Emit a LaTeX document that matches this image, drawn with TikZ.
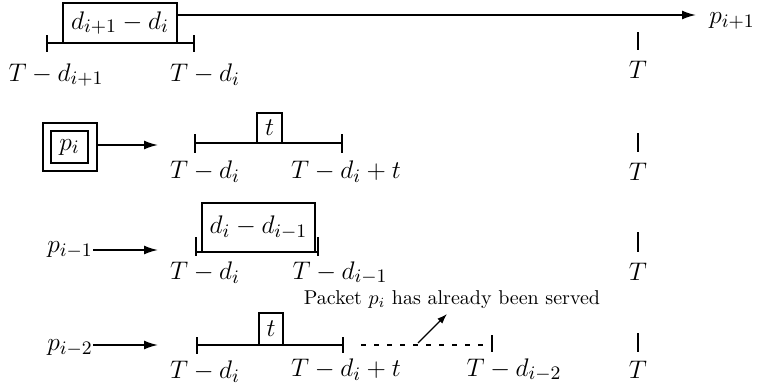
\documentclass[tikz,border=0pt]{standalone}
\usepackage{graphicx}
\usetikzlibrary{arrows.meta}
\newcommand{\bt}[1]{\scalebox{1.06}{#1}}
\begin{document}
\begin{tikzpicture}[x=0.5pt,y=-0.5pt,
  lbl/.style={inner sep=0pt,font=\fontsize{13}{15}\selectfont,scale=1.06},
  tl/.style={line width=0.85pt},
  tk/.style={line width=0.7pt},
  bx/.style={draw,line width=0.6pt,inner sep=0pt,font=\fontsize{13}{15}\selectfont},
  arr/.style={line width=0.9pt,-{Latex[length=7pt,width=4.5pt]}},
  sarr/.style={line width=0.6pt,-{Latex[length=5pt,width=3.5pt]}}]
\useasboundingbox (0,0) rectangle (757,391);
% ---------- row 1 ----------
\node[bx,minimum width=57pt,minimum height=20pt] (b1) at (120,23) {\bt{$d_{i+1}-d_i$}};
\coordinate (a1) at (47,43);
\coordinate (b1r) at (194,43);
\draw[tl] (a1) -- (b1r);
\draw[tk] (47,35) -- (47,52);
\draw[tk] (194,35) -- (194,52);
\node[lbl] (l11) at (56,75) {$T-d_{i+1}$};
\node[lbl] (l12) at (205,75) {$T-d_i$};
\node[lbl,anchor=west] (pip1) at (709,21) {$p_{i+1}$};
\coordinate (tip1) at (696,15);
\draw[arr] (b1.east|-tip1) -- (tip1);
\draw[tk] (638,32) -- (638,50);
\node[lbl] (T1) at (638,70) {$T$};
% ---------- row 2 ----------
\node[draw,line width=0.6pt,minimum width=27pt,minimum height=24pt] (po) at (70,147) {};
\node[bx,minimum width=18.5pt,minimum height=16pt] (pi) at (69.5,147) {\bt{$p_i$}};
\coordinate (r2) at (158,145);
\draw[arr] (po.east|-r2) -- (r2);
\coordinate (s2) at (195,143);
\coordinate (e2) at (342,143);
\draw[tl] (s2) -- (e2);
\draw[tk] (195,134) -- (195,153);
\draw[tk] (342,134) -- (342,153);
\node[bx,minimum width=12.5pt,minimum height=15pt] (t2) at (269.5,128) {\bt{$t$}};
\node[lbl] (l21) at (205,172) {$T-d_i$};
\node[lbl] (l22) at (346,172) {$T-d_i+t$};
\draw[tk] (638,133) -- (638,152);
\node[lbl] (T2) at (638,172) {$T$};
% ---------- row 3 ----------
\node[lbl] (pim1) at (70,250) {$p_{i-1}$};
\coordinate (r3) at (158,250);
\draw[arr] (pim1.east) -- (r3);
\coordinate (s3) at (196,252);
\coordinate (e3) at (318,252);
\draw[tl] (s3) -- (e3);
\draw[tk] (196,237) -- (196,256);
\draw[tk] (318,237) -- (318,256);
\node[bx,minimum width=56.5pt,minimum height=24.5pt] (b3) at (258.5,227.5) {\bt{$d_i-d_{i-1}$}};
\node[lbl] (l31) at (205,273) {$T-d_i$};
\node[lbl] (l32) at (340,273) {$T-d_{i-1}$};
\draw[tk] (638,232) -- (638,252);
\node[lbl] (T3) at (638,272) {$T$};
% ---------- row 4 ----------
\node[lbl] (pim2) at (70,348) {$p_{i-2}$};
\coordinate (r4) at (158,345);
\draw[arr] (pim2.east|-r4) -- (r4);
\coordinate (s4) at (197,345);
\coordinate (m4) at (343,345);
\coordinate (e4) at (492,345);
\draw[line width=0.6pt] (s4) -- (m4);
\draw[line width=0.6pt,dash pattern=on 2.5pt off 4pt] (m4) ++(18,0) -- (e4);
\draw[tk] (197,337) -- (197,354);
\draw[tk] (343,337) -- (343,353);
\draw[tk] (492,335) -- (492,352);
\node[bx,minimum width=12pt,minimum height=16pt] (t4) at (271,329) {\bt{$t$}};
\coordinate (q4) at (418,343);
\coordinate (q5) at (447,314);
\draw[sarr] (q4) -- (q5);
\node[inner sep=0pt,font=\fontsize{10}{12}\selectfont] (pk) at (452,300) {Packet $p_i$ has already been served};
\node[lbl] (l41) at (205,372) {$T-d_i$};
\node[lbl] (l42) at (346,370) {$T-d_i+t$};
\node[lbl] (l43) at (514,370) {$T-d_{i-2}$};
\draw[tk] (638,333) -- (638,352);
\node[lbl] (T4) at (638,370) {$T$};
\end{tikzpicture}
\end{document}
